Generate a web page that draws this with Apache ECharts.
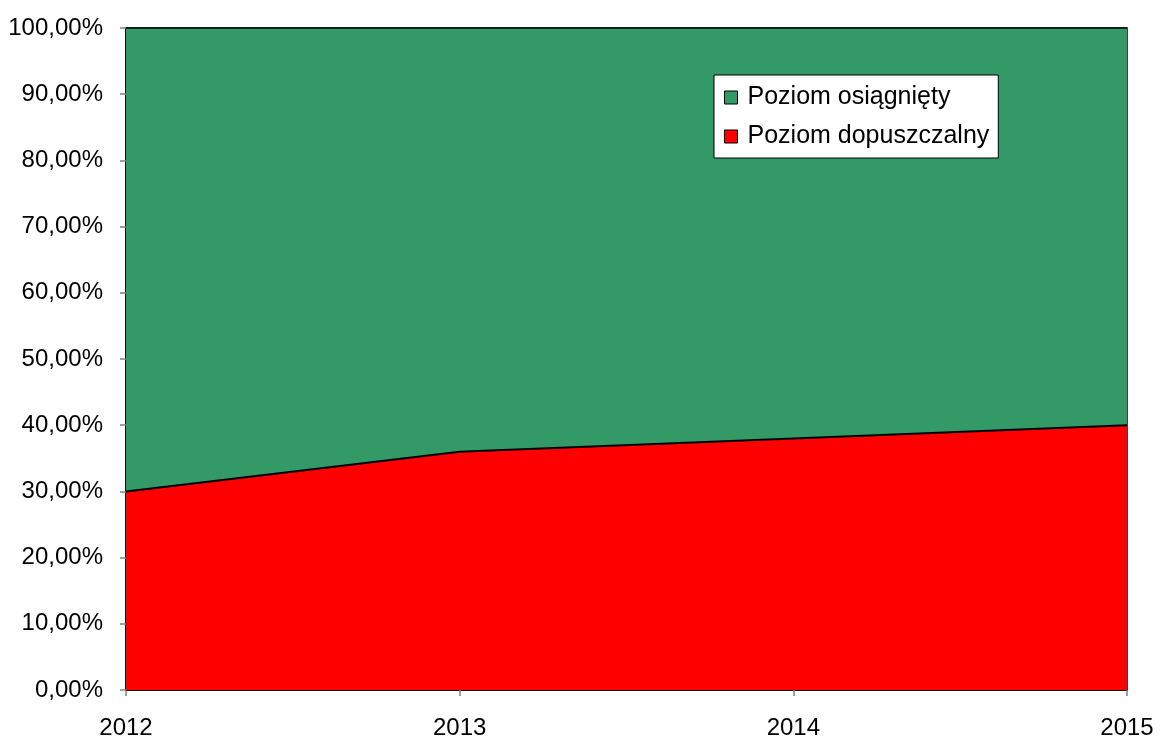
<!DOCTYPE html>
<html>
<head>
<meta charset="utf-8">
<script src="https://cdn.jsdelivr.net/npm/echarts@6/dist/echarts.min.js"></script>
<style>html,body{margin:0;padding:0;background:#fff;}#c{width:1160px;height:740px;}</style>
</head>
<body>
<div id="c"></div>
<script>
const categories = ['2012', '2013', '2014', '2015'];
const dopuszczalny = [30, 36, 38, 40];
const osiagniety = [70, 64, 62, 60];
const seriesNames = ['Poziom osiągnięty', 'Poziom dopuszczalny'];

const chart = echarts.init(document.getElementById('c'), null, {renderer: 'canvas'});
const font = 'Liberation Sans, Arial, sans-serif';
chart.setOption({
  animation: false,
  backgroundColor: '#ffffff',
  grid: {left: 126, right: 33, top: 28, bottom: 48, show: true, borderColor: '#000', borderWidth: 1.5, backgroundColor: 'transparent'},
  legend: {
    data: seriesNames,
    orient: 'vertical',
    left: 714, top: 75,
    padding: [10, 9, 9, 10],
    itemGap: 14,
    itemWidth: 13, itemHeight: 13,
    icon: 'rect',
    backgroundColor: '#ffffff',
    borderColor: '#000', borderWidth: 1,
    textStyle: {fontFamily: font, fontSize: 25, color: '#000', padding: [0, 0, 0, 5]},
    itemStyle: {borderColor: '#000', borderWidth: 1}
  },
  xAxis: {
    type: 'category', data: categories, boundaryGap: false,
    axisLine: {lineStyle: {color: '#000', width: 1.5}},
    axisTick: {show: true, length: 6, lineStyle: {color: '#808080', width: 1.5}},
    axisLabel: {fontFamily: font, fontSize: 24, color: '#000', margin: 26},
    splitLine: {show: false}
  },
  yAxis: {
    type: 'value', min: 0, max: 100, interval: 10,
    axisLine: {show: true, lineStyle: {color: '#000', width: 1.5}},
    axisTick: {show: true, length: 6, lineStyle: {color: '#808080', width: 1.5}},
    axisLabel: {fontFamily: font, fontSize: 24, color: '#000', margin: 23,
      formatter: v => v.toFixed(2).replace('.', ',') + '%'},
    splitLine: {show: false}
  },
  series: [
    {
      name: 'Poziom dopuszczalny', type: 'line', stack: 's', data: dopuszczalny,
      symbol: 'none', color: '#ff0000',
      lineStyle: {color: '#000', width: 2},
      areaStyle: {color: '#ff0000', opacity: 1},
      z: 3
    },
    {
      name: 'Poziom osiągnięty', type: 'line', stack: 's', data: osiagniety,
      symbol: 'none', color: '#339966',
      lineStyle: {color: '#000', width: 1.5},
      areaStyle: {color: '#339966', opacity: 1},
      z: 2
    }
  ]
});
</script>
</body>
</html>
